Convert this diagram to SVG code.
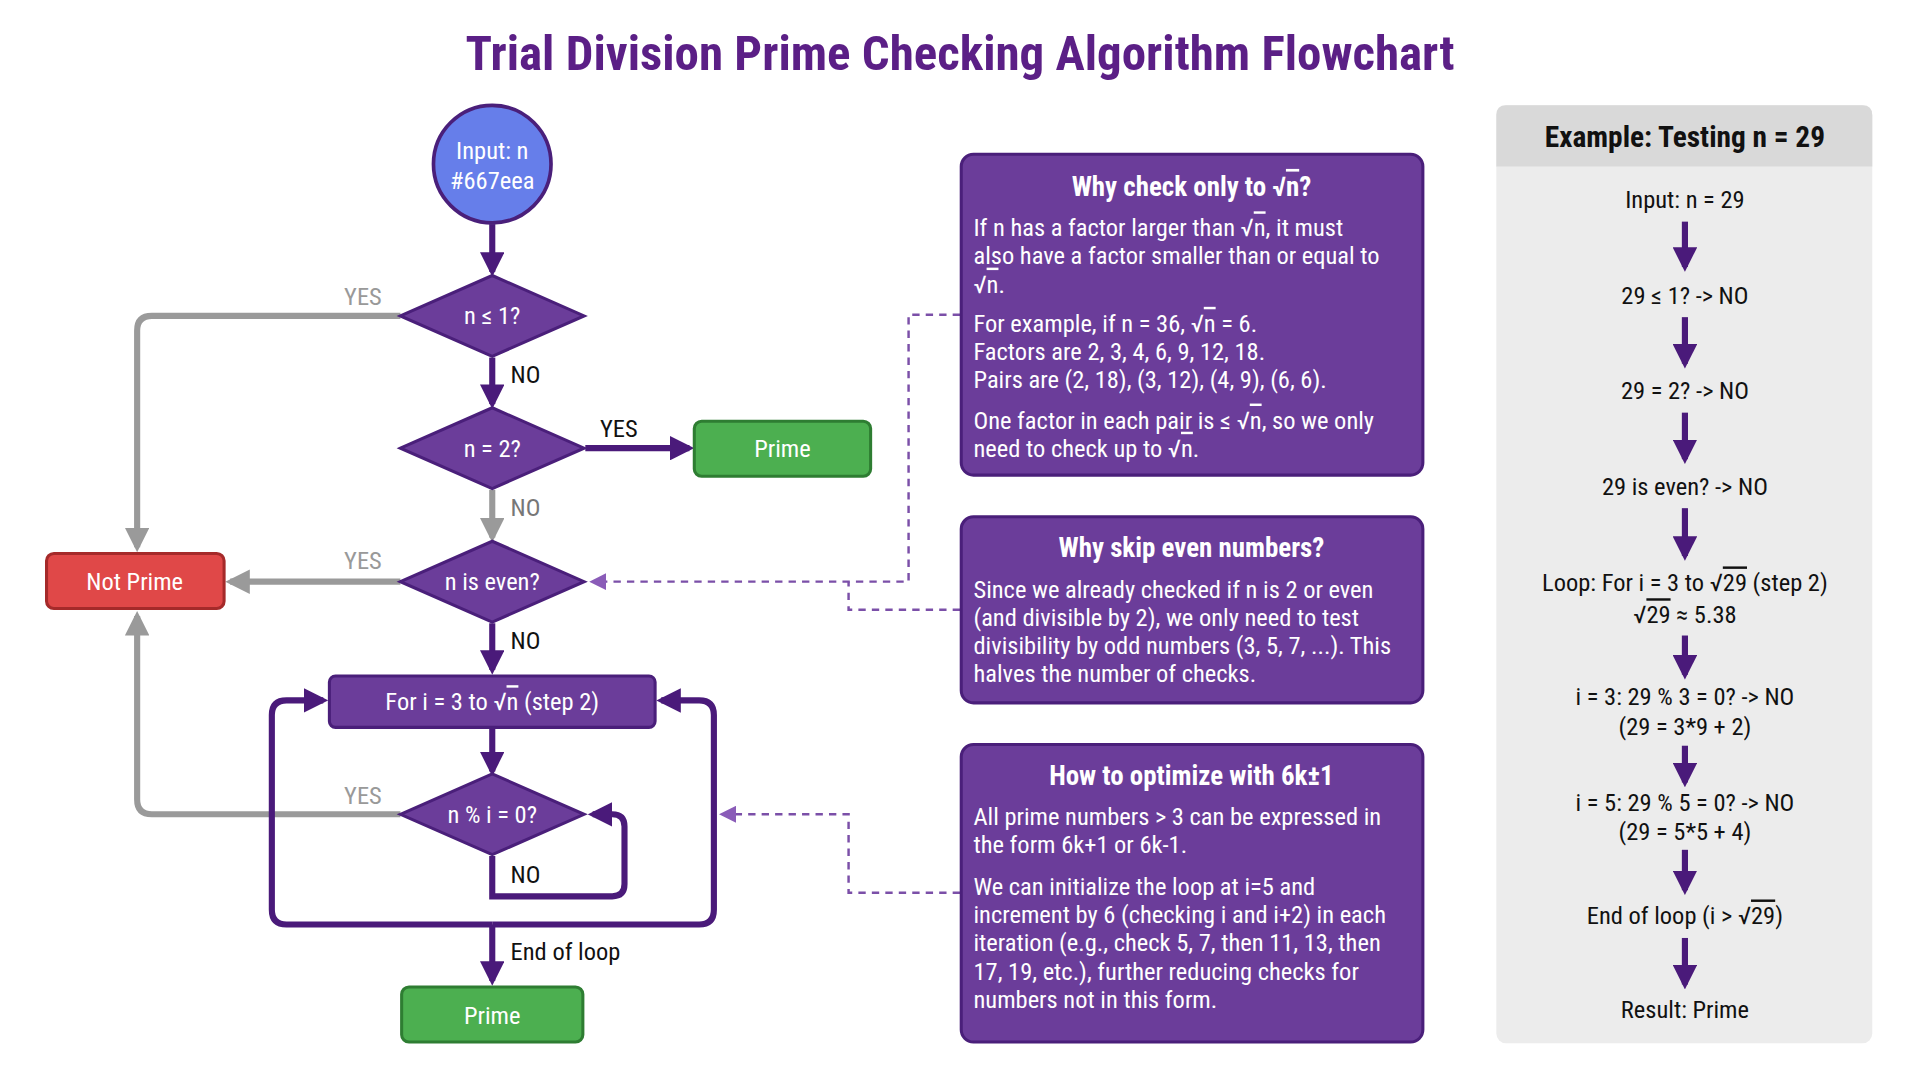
<svg xmlns="http://www.w3.org/2000/svg" width="1920" height="1080" viewBox="0 0 1920 1080">
<defs>
<style>
text{font-family:"Roboto Condensed","Liberation Sans Narrow",Roboto,sans-serif;}
.w{fill:#fff;font-size:20px}
.c{text-anchor:middle}
.tt{fill:#fff;font-size:22px;font-weight:bold;text-anchor:middle}
.box{fill:#6b3d9a;stroke:#4a1f7a;stroke-width:2.5}
.dia{fill:#6b3d9a;stroke:#4a1f7a;stroke-width:2.5}
.pf{stroke:#4a1a7a;stroke-width:5;fill:none}
.gf{stroke:#9a9a9a;stroke-width:5;fill:none}
.dash{stroke:#7b4fa8;stroke-width:2;stroke-dasharray:6,5;fill:none}
.lbl{font-size:20px;fill:#111}
.glbl{font-size:20px;fill:#999}
.ex{font-size:20px;fill:#111;text-anchor:middle}
.ov{text-decoration:overline}
</style>
<marker id="ap" viewBox="0 0 10 10" refX="8" refY="5" markerWidth="4" markerHeight="4" orient="auto" markerUnits="strokeWidth"><path d="M0,0L10,5L0,10z" fill="#4a1a7a"/></marker>
<marker id="ag" viewBox="0 0 10 10" refX="8" refY="5" markerWidth="4" markerHeight="4" orient="auto" markerUnits="strokeWidth"><path d="M0,0L10,5L0,10z" fill="#9a9a9a"/></marker>
<marker id="ad" viewBox="0 0 10 10" refX="8" refY="5" markerWidth="7" markerHeight="7" orient="auto" markerUnits="strokeWidth"><path d="M0,0L10,5L0,10z" fill="#8a5cb8"/></marker>
</defs>
<rect width="1920" height="1080" fill="#fff"/>
<g transform="scale(1.2245)">
<text x="784" y="57" class="c" style="font-size:40px;font-weight:bold;fill:#5b1f86">Trial Division Prime Checking Algorithm Flowchart</text>

<g id="connectors">
<path class="pf" d="M402,183V222" marker-end="url(#ap)"/>
<path class="pf" d="M402,292V330" marker-end="url(#ap)"/>
<path class="pf" d="M478,366H563" marker-end="url(#ap)"/>
<path class="gf" d="M402,400V439" marker-end="url(#ag)"/>
<path class="gf" d="M327,475H188" marker-end="url(#ag)"/>
<path class="gf" d="M327,258H124Q112,258 112,270V447" marker-end="url(#ag)"/>
<path class="gf" d="M327,665H124Q112,665 112,653V503" marker-end="url(#ag)"/>
<path class="pf" d="M402,509V547" marker-end="url(#ap)"/>
<path class="pf" d="M402,595V630" marker-end="url(#ap)"/>
<path class="pf" d="M402,699V732H500Q510,732 510,722V675Q510,665 500,665H484" marker-end="url(#ap)"/>
<path class="pf" d="M402,755H234Q222,755 222,743V584Q222,572 234,572H264" marker-end="url(#ap)"/>
<path class="pf" d="M402,755H571Q583,755 583,743V584Q583,572 571,572H540" marker-end="url(#ap)"/>
<path class="pf" d="M402,755V801" marker-end="url(#ap)"/>
<path class="dash" d="M784,257H742V475H484" marker-end="url(#ad)"/>
<path class="dash" d="M784,498H693V475"/>
<path class="dash" d="M784,729H693V665H590" marker-end="url(#ad)"/>
<text x="281" y="249" class="glbl">YES</text>
<text x="417" y="313" class="lbl">NO</text>
<text x="490" y="357" class="lbl">YES</text>
<text x="417" y="421" class="glbl" style="fill:#777">NO</text>
<text x="281" y="465" class="glbl">YES</text>
<text x="417" y="530" class="lbl">NO</text>
<text x="281" y="657" class="glbl">YES</text>
<text x="417" y="721" class="lbl">NO</text>
<text x="417" y="784" class="lbl">End of loop</text>
</g>

<g id="input"><circle cx="402" cy="134" r="48" fill="#667eea" stroke="#4a1f7a" stroke-width="3"/>
<text x="402" y="130" class="w c">Input: n</text><text x="402" y="154" class="w c">#667eea</text></g>
<g id="d1"><polygon class="dia" points="327,258 402,225 477,258 402,291"/><text x="402" y="265" class="w c">n ≤ 1?</text></g>
<g id="d2"><polygon class="dia" points="327,366 402,333 477,366 402,399"/><text x="402" y="373" class="w c">n = 2?</text></g>
<g id="prime1"><rect x="567" y="344" width="144" height="45" rx="6" fill="#4caf50" stroke="#2e7d32" stroke-width="2.5"/><text x="639" y="373" class="w c">Prime</text></g>
<g id="d3"><polygon class="dia" points="327,475 402,442 477,475 402,508"/><text x="402" y="482" class="w c">n is even?</text></g>
<g id="notprime"><rect x="38" y="452" width="145" height="45" rx="6" fill="#e04848" stroke="#a52a2a" stroke-width="2.5"/><text x="110" y="482" class="w c">Not Prime</text></g>
<g id="loop"><rect class="box" x="269" y="552" width="266" height="42" rx="5"/><text x="402" y="580" class="w c">For i = 3 to √<tspan class="ov">n</tspan> (step 2)</text></g>
<g id="d4"><polygon class="dia" points="327,665 402,632 477,665 402,698"/><text x="402" y="672" class="w c">n % i = 0?</text></g>
<g id="prime2"><rect x="328" y="806" width="148" height="45" rx="6" fill="#4caf50" stroke="#2e7d32" stroke-width="2.5"/><text x="402" y="836" class="w c">Prime</text></g>

<g id="info1"><rect class="box" x="785" y="126" width="377" height="262" rx="10"/>
<text x="973" y="160" class="tt">Why check only to √<tspan class="ov">n</tspan>?</text>
<text class="w" x="795" y="193">If n has a factor larger than √<tspan class="ov">n</tspan>, it must</text>
<text class="w" x="795" y="216">also have a factor smaller than or equal to</text>
<text class="w" x="795" y="239">√<tspan class="ov">n</tspan>.</text>
<text class="w" x="795" y="271">For example, if n = 36, √<tspan class="ov">n</tspan> = 6.</text>
<text class="w" x="795" y="294">Factors are 2, 3, 4, 6, 9, 12, 18.</text>
<text class="w" x="795" y="317">Pairs are (2, 18), (3, 12), (4, 9), (6, 6).</text>
<text class="w" x="795" y="350">One factor in each pair is ≤ √<tspan class="ov">n</tspan>, so we only</text>
<text class="w" x="795" y="373">need to check up to √<tspan class="ov">n</tspan>.</text></g>
<g id="info2"><rect class="box" x="785" y="422" width="377" height="152" rx="10"/>
<text x="973" y="455" class="tt">Why skip even numbers?</text>
<text class="w" x="795" y="488">Since we already checked if n is 2 or even</text>
<text class="w" x="795" y="511">(and divisible by 2), we only need to test</text>
<text class="w" x="795" y="534">divisibility by odd numbers (3, 5, 7, ...). This</text>
<text class="w" x="795" y="557">halves the number of checks.</text></g>
<g id="info3"><rect class="box" x="785" y="608" width="377" height="243" rx="10"/>
<text x="973" y="641" class="tt">How to optimize with 6k±1</text>
<text class="w" x="795" y="674">All prime numbers &gt; 3 can be expressed in</text>
<text class="w" x="795" y="697">the form 6k+1 or 6k-1.</text>
<text class="w" x="795" y="731">We can initialize the loop at i=5 and</text>
<text class="w" x="795" y="754">increment by 6 (checking i and i+2) in each</text>
<text class="w" x="795" y="777">iteration (e.g., check 5, 7, then 11, 13, then</text>
<text class="w" x="795" y="800">17, 19, etc.), further reducing checks for</text>
<text class="w" x="795" y="823">numbers not in this form.</text></g>

<g id="example">
<rect x="1222" y="86" width="307" height="766" rx="8" fill="#ececec"/>
<path d="M1222,136V94Q1222,86 1230,86H1521Q1529,86 1529,94V136Z" fill="#d9d9d9"/>
<text x="1376" y="120" class="c" style="font-size:24px;font-weight:bold;fill:#111">Example: Testing n = 29</text>
<text class="ex" x="1376" y="170">Input: n = 29</text>
<text class="ex" x="1376" y="248">29 ≤ 1? -&gt; NO</text>
<text class="ex" x="1376" y="326">29 = 2? -&gt; NO</text>
<text class="ex" x="1376" y="404">29 is even? -&gt; NO</text>
<text class="ex" x="1376" y="483">Loop: For i = 3 to √<tspan class="ov">29</tspan> (step 2)</text>
<text class="ex" x="1376" y="509">√<tspan class="ov">29</tspan> ≈ 5.38</text>
<text class="ex" x="1376" y="576">i = 3: 29 % 3 = 0? -&gt; NO</text>
<text class="ex" x="1376" y="600">(29 = 3*9 + 2)</text>
<text class="ex" x="1376" y="662">i = 5: 29 % 5 = 0? -&gt; NO</text>
<text class="ex" x="1376" y="686">(29 = 5*5 + 4)</text>
<text class="ex" x="1376" y="755">End of loop (i &gt; √<tspan class="ov">29</tspan>)</text>
<text class="ex" x="1376" y="831">Result: Prime</text>
<g class="pf">
<path d="M1376,181V218" marker-end="url(#ap)"/>
<path d="M1376,259V297" marker-end="url(#ap)"/>
<path d="M1376,337V375" marker-end="url(#ap)"/>
<path d="M1376,415V454" marker-end="url(#ap)"/>
<path d="M1376,519V551" marker-end="url(#ap)"/>
<path d="M1376,609V639" marker-end="url(#ap)"/>
<path d="M1376,694V727" marker-end="url(#ap)"/>
<path d="M1376,766V804" marker-end="url(#ap)"/>
</g>
</g>
</g>
</svg>
